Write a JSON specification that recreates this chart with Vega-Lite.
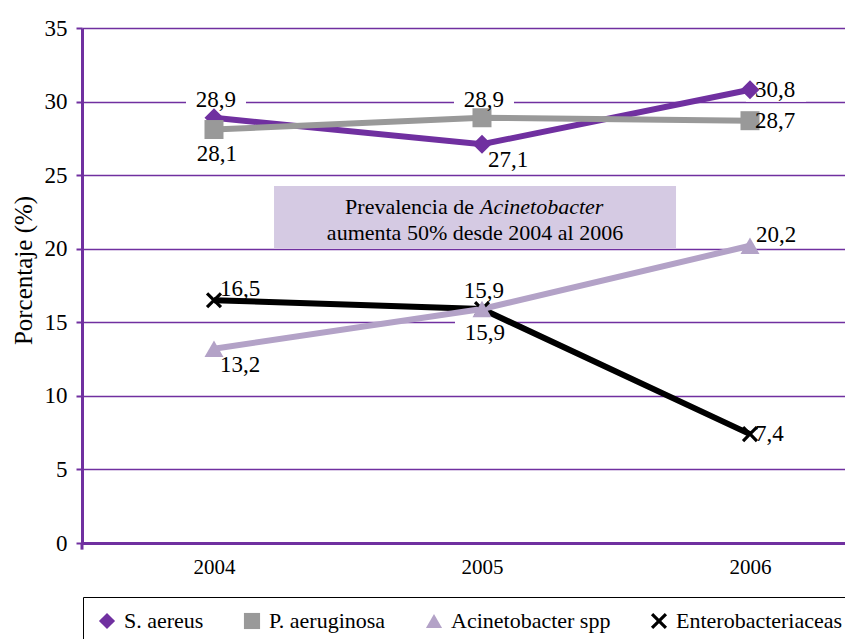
{
  "$schema": "https://vega.github.io/schema/vega-lite/v6.json",
  "width": 763,
  "height": 515,
  "autosize": {"type": "none"},
  "padding": {"left": 82, "top": 28, "right": 0, "bottom": 96},
  "background": "white",
  "config": {
    "view": {"stroke": null},
    "font": "Liberation Serif",
    "locale": {"number": {"decimal": ",", "thousands": ".", "grouping": [3], "currency": ["", " €"]}},
    "axis": {"labelFont": "Liberation Serif", "titleFont": "Liberation Serif", "labelColor": "#000000", "titleColor": "#000000", "titleFontWeight": "normal"},
    "legend": {"orient": "none", "legendX": 1, "legendY": 569, "direction": "horizontal",
               "strokeColor": "#000000", "padding": 13, "columnPadding": 37, "labelOffset": 6,
               "symbolSize": 260, "symbolStrokeWidth": 0, "labelFont": "Liberation Serif", "labelFontSize": 22,
               "labelColor": "#000000", "labelLimit": 400}
  },
  "data": {
    "values": [
      {"serie": "S. aereus", "anio": 2004, "valor": 28.9, "pos": "arriba"},
      {"serie": "S. aereus", "anio": 2005, "valor": 27.1, "pos": "der-abajo"},
      {"serie": "S. aereus", "anio": 2006, "valor": 30.8, "pos": "derecha"},
      {"serie": "P. aeruginosa", "anio": 2004, "valor": 28.1, "pos": "abajo"},
      {"serie": "P. aeruginosa", "anio": 2005, "valor": 28.9, "pos": "arriba"},
      {"serie": "P. aeruginosa", "anio": 2006, "valor": 28.7, "pos": "derecha"},
      {"serie": "Enterobacteriaceas", "anio": 2004, "valor": 16.5, "pos": "der-arriba"},
      {"serie": "Enterobacteriaceas", "anio": 2005, "valor": 15.9, "pos": "arriba"},
      {"serie": "Enterobacteriaceas", "anio": 2006, "valor": 7.4, "pos": "derecha"},
      {"serie": "Acinetobacter spp", "anio": 2004, "valor": 13.2, "pos": "der-abajo"},
      {"serie": "Acinetobacter spp", "anio": 2005, "valor": 15.9, "pos": "abajo"},
      {"serie": "Acinetobacter spp", "anio": 2006, "valor": 20.2, "pos": "der-arriba"}
    ]
  },
  "layer": [
    {
      "data": {"values": [{"nota": "caja"}]},
      "mark": {"type": "rect", "color": "#d5cae3"},
      "encoding": {"x": {"datum": 2004.224, "type": "quantitative"}, "x2": {"datum": 2005.724},
                   "y": {"datum": 24.26, "type": "quantitative"}, "y2": {"datum": 20.05}}
    },
    {
      "data": {"values": [{"nota": "eje"}]},
      "mark": {"type": "rule", "color": "#7030a0", "strokeWidth": 3},
      "encoding": {"x": {"datum": 2003.5075, "type": "quantitative"},
                   "y": {"datum": 0, "type": "quantitative"}, "y2": {"datum": -0.45}}
    },
    {
      "encoding": {
        "x": {
          "field": "anio", "type": "quantitative",
          "scale": {"domain": [2003.5075, 2006.3545], "nice": false, "zero": false},
          "axis": {"title": null, "values": [2004, 2005, 2006], "format": "d", "grid": false, "ticks": false,
                   "domainColor": "#7030a0", "domainWidth": 3, "labelFontSize": 21, "labelPadding": 13, "labelFlush": false}
        },
        "y": {
          "field": "valor", "type": "quantitative",
          "scale": {"domain": [0, 35], "nice": false},
          "axis": {"title": "Porcentaje (%)", "values": [0, 5, 10, 15, 20, 25, 30, 35], "format": "d",
                   "grid": true, "gridColor": "#7030a0", "gridWidth": 1.5,
                   "domainColor": "#7030a0", "domainWidth": 3, "tickColor": "#7030a0", "tickWidth": 2, "tickSize": 6,
                   "labelFontSize": 23, "labelPadding": 9, "titleFontSize": 25,
                   "titleX": -59, "titleY": 242, "titleAngle": -90, "titleAlign": "center", "titleBaseline": "middle"}
        }
      },
      "layer": [
        {
          "transform": [{"filter": "datum.pos === 'arriba'"}],
          "mark": {"type": "point", "shape": "M-1,-0.4L1,-0.4L1,0.4L-1,0.4Z", "size": 3600, "filled": true, "fill": "white", "opacity": 1, "strokeWidth": 0, "xOffset": 2, "yOffset": -18}
        },
        {
          "transform": [{"filter": "datum.pos === 'abajo'"}],
          "mark": {"type": "point", "shape": "M-1,-0.4L1,-0.4L1,0.4L-1,0.4Z", "size": 3600, "filled": true, "fill": "white", "opacity": 1, "strokeWidth": 0, "xOffset": 3, "yOffset": 24}
        },
        {
          "transform": [{"filter": "datum.pos === 'derecha'"}],
          "mark": {"type": "point", "shape": "M-1,-0.4L1,-0.4L1,0.4L-1,0.4Z", "size": 3600, "filled": true, "fill": "white", "opacity": 1, "strokeWidth": 0, "xOffset": 26, "yOffset": 0}
        },
        {
          "transform": [{"filter": "datum.pos === 'der-arriba'"}],
          "mark": {"type": "point", "shape": "M-1,-0.4L1,-0.4L1,0.4L-1,0.4Z", "size": 3600, "filled": true, "fill": "white", "opacity": 1, "strokeWidth": 0, "xOffset": 27, "yOffset": -11}
        },
        {
          "transform": [{"filter": "datum.pos === 'der-abajo'"}],
          "mark": {"type": "point", "shape": "M-1,-0.4L1,-0.4L1,0.4L-1,0.4Z", "size": 3600, "filled": true, "fill": "white", "opacity": 1, "strokeWidth": 0, "xOffset": 27, "yOffset": 16}
        },
        {
          "transform": [{"filter": "datum.serie !== 'Acinetobacter spp'"}],
          "mark": {"type": "line", "strokeWidth": 6},
          "encoding": {
            "color": {"field": "serie", "type": "nominal",
                      "scale": {"domain": ["S. aereus", "P. aeruginosa", "Acinetobacter spp", "Enterobacteriaceas"],
                                "range": ["#7030a0", "#999999", "#b3a2c7", "#000000"]},
                      "legend": {"title": null}}
          }
        },
        {
          "transform": [{"filter": "datum.serie === 'Acinetobacter spp'"}],
          "mark": {"type": "line", "strokeWidth": 6},
          "encoding": {"color": {"field": "serie", "type": "nominal", "legend": {"title": null}}}
        },
        {
          "transform": [{"filter": "datum.serie === 'Enterobacteriaceas'"}],
          "mark": {"type": "point", "filled": true, "opacity": 1, "size": 260},
          "encoding": {
            "color": {"field": "serie", "type": "nominal", "legend": {"title": null}},
            "shape": {"field": "serie", "type": "nominal", "legend": {"title": null}}
          }
        },
        {
          "transform": [{"filter": "datum.serie !== 'Enterobacteriaceas'"}],
          "mark": {"type": "point", "filled": true, "opacity": 1, "size": 361},
          "encoding": {
            "color": {"field": "serie", "type": "nominal", "legend": {"title": null}},
            "shape": {"field": "serie", "type": "nominal",
                      "scale": {"domain": ["S. aereus", "P. aeruginosa", "Acinetobacter spp", "Enterobacteriaceas"],
                                "range": ["diamond", "square", "triangle-up", "M-0.72,-1L0,-0.28L0.72,-1L1,-0.72L0.28,0L1,0.72L0.72,1L0,0.28L-0.72,1L-1,0.72L-0.28,0L-1,-0.72Z"]},
                      "legend": {"title": null}}
          }
        },
        {
          "transform": [{"filter": "datum.pos === 'arriba'"}],
          "mark": {"type": "text", "align": "center", "baseline": "middle", "dx": 2, "dy": -18, "fontSize": 23, "font": "Liberation Serif", "color": "#000000"},
          "encoding": {"text": {"field": "valor", "type": "quantitative", "format": ".1f"}}
        },
        {
          "transform": [{"filter": "datum.pos === 'abajo'"}],
          "mark": {"type": "text", "align": "center", "baseline": "middle", "dx": 3, "dy": 24, "fontSize": 23, "font": "Liberation Serif", "color": "#000000"},
          "encoding": {"text": {"field": "valor", "type": "quantitative", "format": ".1f"}}
        },
        {
          "transform": [{"filter": "datum.pos === 'derecha'"}],
          "mark": {"type": "text", "align": "left", "baseline": "middle", "dx": 5, "dy": 0, "fontSize": 23, "font": "Liberation Serif", "color": "#000000"},
          "encoding": {"text": {"field": "valor", "type": "quantitative", "format": ".1f"}}
        },
        {
          "transform": [{"filter": "datum.pos === 'der-arriba'"}],
          "mark": {"type": "text", "align": "left", "baseline": "middle", "dx": 6, "dy": -11, "fontSize": 23, "font": "Liberation Serif", "color": "#000000"},
          "encoding": {"text": {"field": "valor", "type": "quantitative", "format": ".1f"}}
        },
        {
          "transform": [{"filter": "datum.pos === 'der-abajo'"}],
          "mark": {"type": "text", "align": "left", "baseline": "middle", "dx": 6, "dy": 16, "fontSize": 23, "font": "Liberation Serif", "color": "#000000"},
          "encoding": {"text": {"field": "valor", "type": "quantitative", "format": ".1f"}}
        }
      ]
    },
    {
      "data": {"values": [{"nota": "linea1"}]},
      "mark": {"type": "text", "text": "Prevalencia de", "align": "right", "baseline": "alphabetic", "fontSize": 22, "font": "Liberation Serif", "color": "#000000"},
      "encoding": {"x": {"datum": 2004.970, "type": "quantitative"}, "y": {"datum": 22.36, "type": "quantitative"}}
    },
    {
      "data": {"values": [{"nota": "linea1b"}]},
      "mark": {"type": "text", "text": "Acinetobacter", "align": "left", "baseline": "alphabetic", "fontSize": 22, "fontStyle": "italic", "font": "Liberation Serif", "color": "#000000"},
      "encoding": {"x": {"datum": 2004.9926, "type": "quantitative"}, "y": {"datum": 22.36, "type": "quantitative"}}
    },
    {
      "data": {"values": [{"nota": "linea2"}]},
      "mark": {"type": "text", "text": "aumenta 50% desde 2004 al 2006", "align": "center", "baseline": "alphabetic", "fontSize": 22, "font": "Liberation Serif", "color": "#000000"},
      "encoding": {"x": {"datum": 2004.974, "type": "quantitative"}, "y": {"datum": 20.59, "type": "quantitative"}}
    }
  ]
}
